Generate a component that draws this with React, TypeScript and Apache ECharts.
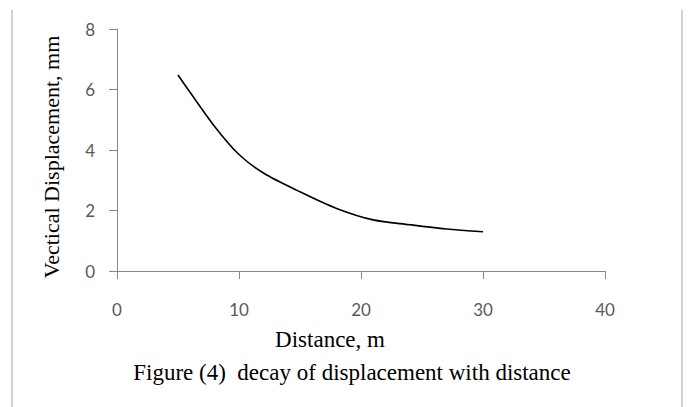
import React, { useEffect, useRef } from "react";
import * as echarts from "echarts";

const distance = [5, 6, 8, 10, 12, 15, 18, 21, 24, 27, 30];
const displacement = [6.48, 5.9, 4.78, 3.85, 3.24, 2.62, 2.07, 1.69, 1.53, 1.39, 1.3];
const xTicks = [0, 10, 20, 30, 40];
const yTicks = [0, 2, 4, 6, 8];
const xTitle = "Distance, m";
const yTitle = "Vectical Displacement, mm";
const caption = "Figure (4)  decay of displacement with distance";

export default function App() {
  const ref = useRef<HTMLDivElement>(null);
  useEffect(() => {
    if (!ref.current) return;
    const chart = echarts.init(ref.current, undefined, { renderer: "svg" });
    const axisColor = "#868686";
    const serif = "Liberation Serif";
    const labelStyle = {
      color: "#595959",
      fontFamily: "Lato",
      fontSize: 17,
    };
    chart.setOption({
      animation: false,
      backgroundColor: "#ffffff",
      grid: { left: 117, right: 83, top: 29, bottom: 136, containLabel: false },
      xAxis: {
        type: "value",
        min: xTicks[0],
        max: xTicks[xTicks.length - 1],
        interval: 10,
        splitLine: { show: false },
        axisLine: { onZero: false, lineStyle: { color: axisColor, width: 1 } },
        axisTick: { show: true, inside: false, length: 8, lineStyle: { color: axisColor } },
        axisLabel: { ...labelStyle, margin: 30 },
        name: xTitle,
        nameLocation: "middle",
        nameGap: 57,
        nameTextStyle: {
          fontFamily: serif,
          fontSize: 23,
          color: "#000000",
          padding: [0, 62, 0, 0],
        },
      },
      yAxis: {
        type: "value",
        min: yTicks[0],
        max: yTicks[yTicks.length - 1],
        interval: 2,
        splitLine: { show: false },
        axisLine: { show: true, lineStyle: { color: axisColor, width: 1 } },
        axisTick: { show: true, inside: false, length: 8, lineStyle: { color: axisColor } },
        axisLabel: { ...labelStyle, margin: 22, padding: [10, 0, 0, 0] },
        name: yTitle,
        nameLocation: "middle",
        nameRotate: 90,
        nameGap: 55,
        nameTextStyle: {
          fontFamily: serif,
          fontSize: 22,
          color: "#000000",
          padding: [0, 14, 0, 0],
        },
      },
      graphic: [
        {
          type: "line",
          shape: { x1: 12, y1: 10, x2: 12, y2: 407 },
          style: { stroke: "#a6a6a6", lineWidth: 1 },
        },
        {
          type: "line",
          shape: { x1: 682, y1: 10, x2: 682, y2: 407 },
          style: { stroke: "#a6a6a6", lineWidth: 1 },
        },
        {
          type: "text",
          x: 352,
          y: 372,
          style: {
            text: caption,
            fontFamily: serif,
            fontSize: 23,
            fill: "#000000",
            align: "center",
            verticalAlign: "middle",
          },
        },
      ],
      series: [
        {
          type: "line",
          data: distance.map((d, i) => [d, displacement[i]]),
          smooth: 0.3,
          showSymbol: false,
          symbol: "none",
          lineStyle: { color: "#000000", width: 1.6 },
        },
      ],
    });
    return () => chart.dispose();
  }, []);
  return (
    <div
      ref={ref}
      style={{ position: "fixed", left: 0, top: 0, width: 688, height: 407, background: "#fff" }}
    />
  );
}
